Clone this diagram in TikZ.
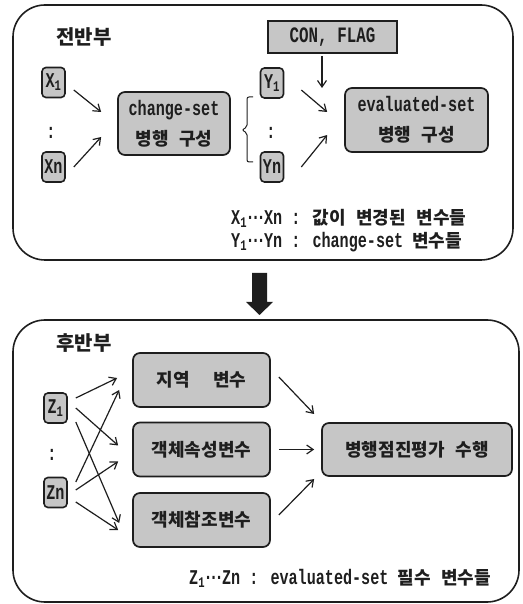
\documentclass[tikz,border=0pt]{standalone}
\usepackage{fontspec}
\setmainfont{Liberation Mono}[FakeStretch=0.72]
\newfontfamily\kr{Noto Sans CJK KR}[WordSpace=2.6]
\usetikzlibrary{arrows.meta}
\definecolor{boxgray}{RGB}{198,198,198}
\definecolor{ink}{RGB}{30,30,30}
\newcommand\kor[1]{{\kr\bfseries\fontsize{18}{30}\selectfont #1}}
\newcommand\middots{\makebox[17pt][c]{\raisebox{4.5pt}{.\kern-3.5pt.\kern-3.5pt.}}}
\begin{document}
\begin{tikzpicture}[x=1pt,y=1pt,
  lat/.style={font=\fontsize{21}{30}\selectfont\bfseries, text=ink},
  box/.style={lat, draw=ink, line width=1.7pt, fill=boxgray, rounded corners=7pt, inner sep=0pt, align=center},
  smallbox/.style={lat, draw=ink, line width=1.6pt, fill=boxgray, rounded corners=4pt, inner sep=0pt, minimum width=23pt, minimum height=30pt},
  panel/.style={draw=ink, line width=1.6pt, rounded corners=32pt},
  head/.style={font=\kr\bfseries\fontsize{20}{24}\selectfont, text=ink},
  arr/.style={-{Straight Barb[length=6.5pt,width=9pt]}, line width=1.2pt, draw=ink},
]
\useasboundingbox (0,0) rectangle (522,604);

% ---------- top panel ----------
\draw[panel] (13,344) rectangle (513,599);
\node[head] (h1) at (84,567) {전반부};
\node[draw=ink, line width=1.6pt, fill=boxgray, minimum width=129pt, minimum height=32pt, inner sep=0pt,
      font=\fontsize{22}{22}\selectfont\bfseries, text=ink] (con) at (332.5,567) {CON, FLAG};
\coordinate (conend) at (322,516);
\draw[arr] ([xshift=-10.5pt,yshift=-2pt]con.south) -- (conend);

\node[smallbox] (x1) at (53.5,521.5) {X\textsubscript{1}};
\node[lat] (xc) at (51,471) {:};
\node[smallbox] (xn) at (53.5,437) {Xn};

\node[box, minimum width=112pt, minimum height=63pt] (cs) at (174,480.5) {change-set\\\kor{병행 구성}};

\draw[arr] ([xshift=8pt,yshift=-7.5pt]x1.east) -- ([xshift=-16pt,yshift=11.5pt]cs.west);
\draw[arr] ([xshift=8pt]xn.east) -- ([xshift=-16pt,yshift=-13.5pt]cs.west);

\draw[line width=1pt, draw=ink, rounded corners=2pt] (253,507) -- (247,507) -- (247,477) -- (242,474) -- (247,471) -- (247,442) -- (253,442);

\node[smallbox] (y1) at (272,521) {Y\textsubscript{1}};
\node[lat] (yc) at (271,471) {:};
\node[smallbox] (yn) at (272,437) {Yn};

\node[box, minimum width=143pt, minimum height=64pt] (ev) at (416.5,484) {evaluated-set\\\kor{병행 구성}};

\draw[arr] ([xshift=17pt,yshift=-7pt]y1.east) -- ([xshift=-17pt,yshift=8pt]ev.west);
\draw[arr] ([xshift=17pt]yn.east) -- ([xshift=-17pt,yshift=-15pt]ev.west);

\node[lat, anchor=west, inner sep=0pt] (l1) at (231,386) {X\textsubscript{1}\middots Xn : \kor{값이 변경된 변수들}};
\node[lat, anchor=west, inner sep=0pt] (l2) at (231,362) {Y\textsubscript{1}\middots Yn : change-set \kor{변수들}};

% ---------- big arrow ----------
\fill[ink] (252,331) -- (267,331) -- (267,302) -- (273,302) -- (259.5,289) -- (246,302) -- (252,302) -- cycle;

% ---------- bottom panel ----------
\draw[panel] (13,2) rectangle (519,284);
\node[head] (h2) at (84,261) {후반부};

\node[smallbox] (z1) at (55.5,196) {Z\textsubscript{1}};
\node[lat] (zc) at (52,149) {:};
\node[smallbox] (zn) at (55.5,111.5) {Zn};

\node[box, minimum width=137pt, minimum height=54pt] (b1) at (201.5,224) {\kor{지역\hspace{1.3em}변수}};
\node[box, minimum width=137pt, minimum height=54pt] (b2) at (201.5,154.5) {\kor{객체속성변수}};
\node[box, minimum width=137pt, minimum height=54pt] (b3) at (201.5,84) {\kor{객체참조변수}};
\node[box, minimum width=190pt, minimum height=53pt] (fin) at (417,154.5) {\kor{병행점진평가 수행}};

\draw[arr] ([xshift=8pt,yshift=10pt]z1.east) -- ([xshift=-15pt,yshift=2pt]b1.west);
\draw[arr] ([xshift=8pt]z1.east) -- ([xshift=-14pt,yshift=4pt]b2.west);
\draw[arr] ([xshift=8pt,yshift=-14pt]z1.east) -- ([xshift=-13pt,yshift=-3pt]b3.west);
\draw[arr] ([xshift=8pt,yshift=10.5pt]zn.east) -- ([xshift=-13pt,yshift=-10pt]b1.west);
\draw[arr] ([xshift=8pt,yshift=2.5pt]zn.east) -- ([xshift=-14pt,yshift=-12pt]b2.west);
\draw[arr] ([xshift=8pt,yshift=-9.5pt]zn.east) -- ([xshift=-14pt,yshift=-10pt]b3.west);

\draw[arr] ([xshift=8pt,yshift=3pt]b1.east) -- ([xshift=-7pt,yshift=35.5pt]fin.west);
\draw[arr] ([xshift=8pt]b2.east) -- ([xshift=-7pt]fin.west);
\draw[arr] ([xshift=8pt,yshift=5pt]b3.east) -- ([xshift=-7pt,yshift=-29.5pt]fin.west);

\node[lat, anchor=west, inner sep=0pt] (l3) at (189,26) {Z\textsubscript{1}\middots Zn : evaluated-set \kor{필수 변수들}};
\end{tikzpicture}
\end{document}
